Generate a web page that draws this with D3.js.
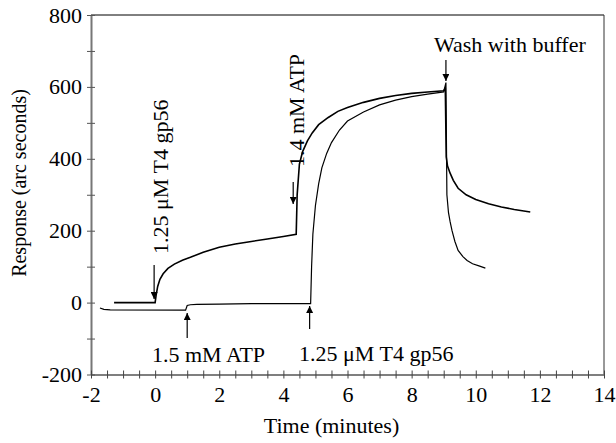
<!DOCTYPE html>
<html>
<head>
<meta charset="utf-8">
<script src="https://cdn.jsdelivr.net/npm/d3@7"></script>
<style>
  body { margin: 0; background: #fff; }
  svg text { font-family: "Liberation Serif", "Times New Roman", serif; fill: #000; }
</style>
</head>
<body>
<svg id="chart" width="616" height="443"></svg>
<script>
// Trace A: gp56 added at t=0, then ATP at ~4.4 min, then wash
var timeA = [-1.28, 0.0, 0.03, 0.08, 0.15, 0.25, 0.4, 0.6, 0.85, 1.1, 1.5, 2.0, 2.5, 3.0, 3.5, 4.0, 4.4,
             4.43, 4.5, 4.6, 4.75, 4.9, 5.1, 5.4, 5.7, 6.0, 6.5, 7.0, 7.5, 8.0, 8.5, 9.0,
             9.05, 9.08, 9.12, 9.2, 9.3, 9.45, 9.7, 10.0, 10.4, 10.8, 11.2, 11.7];
var respA = [0, 0, 20, 45, 65, 80, 95, 107, 118, 126, 140, 154, 163, 170, 177, 184, 190,
             300, 385, 420, 450, 472, 495, 515, 532, 543, 557, 568, 576, 582, 586, 589,
             598, 405, 380, 360, 340, 318, 300, 287, 275, 266, 259, 252];

// Trace B: ATP added at t=1, then gp56 at ~4.85 min, then wash
var timeB = [-1.72, -1.6, -1.4, 0.95, 1.0, 1.1, 1.3, 2.0, 3.0, 4.0, 4.85,
             4.88, 4.92, 5.0, 5.1, 5.2, 5.35, 5.5, 5.75, 6.0, 6.5, 7.0, 7.5, 8.0, 8.5, 9.0,
             9.07, 9.1, 9.15, 9.2, 9.26, 9.35, 9.45, 9.6, 9.73, 9.9, 10.1, 10.3];
var respB = [-15, -19, -20, -21, -8, -6, -5, -4, -3, -3, -3,
             100, 190, 270, 330, 375, 415, 445, 480, 505, 530, 550, 563, 573, 580, 586,
             612, 300, 250, 225, 200, 170, 145, 128, 117, 108, 102, 96];

var xTicks = [-2, 0, 2, 4, 6, 8, 10, 12, 14];
var yTicks = [-200, 0, 200, 400, 600, 800];

var xTitle = "Time (minutes)";
var yTitle = "Response (arc seconds)";

// annotation labels with the time they point at
var notes = [
  { text: "1.25 \u03bcM T4 gp56", t: 0 },
  { text: "1.4 mM ATP", t: 4.4 },
  { text: "1.5 mM ATP", t: 1.0 },
  { text: "1.25 \u03bcM T4 gp56", t: 4.85 },
  { text: "Wash with buffer", t: 9.07 }
];

var svg = d3.select("#chart");

var x = d3.scaleLinear().domain([-2, 14]).range([91, 604]);
var y = d3.scaleLinear().domain([-200, 800]).range([374.5, 15]);

svg.append("defs").append("marker")
  .attr("id", "head")
  .attr("viewBox", "0 0 10 10")
  .attr("refX", 10).attr("refY", 5)
  .attr("markerWidth", 7).attr("markerHeight", 7)
  .attr("markerUnits", "userSpaceOnUse")
  .attr("orient", "auto")
  .append("path").attr("d", "M0,0 L10,5 L0,10 Z").attr("fill", "#000");

// frame top + right
svg.append("line").attr("x1", x(-2)).attr("x2", x(14)).attr("y1", y(800)).attr("y2", y(800))
  .attr("stroke", "#000").attr("stroke-width", 1);
svg.append("line").attr("x1", x(14)).attr("x2", x(14)).attr("y1", y(800)).attr("y2", y(-200))
  .attr("stroke", "#333").attr("stroke-width", 1);

// left axis
var yAxis = svg.append("g").attr("transform", "translate(" + x(-2) + ",0)")
  .call(d3.axisLeft(y).tickValues(d3.range(-200, 801, 100)).tickSize(0).tickPadding(9)
    .tickFormat(function (d) { return yTicks.indexOf(d) >= 0 ? d : ""; }));
yAxis.select(".domain").attr("stroke", "#777").attr("stroke-width", 2);
yAxis.selectAll(".tick line").attr("x1", -4).attr("x2", 4).attr("stroke", "#555");
yAxis.selectAll("text").attr("font-size", 22).attr("font-family", "Liberation Serif");

// bottom axis
var xAxis = svg.append("g").attr("transform", "translate(0," + y(-200) + ")")
  .call(d3.axisBottom(x).tickValues(d3.range(-2, 14.01, 0.5)).tickSize(0).tickPadding(12)
    .tickFormat(function (d) { return xTicks.indexOf(d) >= 0 ? d : ""; }));
xAxis.select(".domain").attr("stroke", "#555").attr("stroke-width", 1.5);
xAxis.selectAll(".tick line").attr("y1", -4).attr("y2", 4).attr("stroke", "#444");
xAxis.selectAll("text").attr("font-size", 22).attr("font-family", "Liberation Serif");

// titles
svg.append("text").attr("x", (x(-2) + x(14)) / 2 - 16).attr("y", 433)
  .attr("text-anchor", "middle").attr("font-size", 22).text(xTitle);
svg.append("text").attr("transform", "translate(26," + 183 + ") rotate(-90)")
  .attr("text-anchor", "middle").attr("font-size", 20).text(yTitle);

// traces
var line = d3.line().x(function (d) { return x(d[0]); }).y(function (d) { return y(d[1]); });
svg.append("path").datum(d3.zip(timeA, respA)).attr("d", line)
  .attr("fill", "none").attr("stroke", "#000").attr("stroke-width", 1.6);
svg.append("path").datum(d3.zip(timeB, respB)).attr("d", line)
  .attr("fill", "none").attr("stroke", "#000").attr("stroke-width", 1.2);

function arrow(x0, y0, y1) {
  svg.append("line").attr("x1", x0).attr("x2", x0).attr("y1", y0).attr("y2", y1)
    .attr("stroke", "#000").attr("stroke-width", 1.2).attr("marker-end", "url(#head)");
}

// gp56 at t=0 (rotated)
arrow(x(notes[0].t) - 1, 265, 299);
svg.append("text").attr("transform", "translate(" + (x(notes[0].t) + 13) + ",254) rotate(-90)")
  .attr("font-size", 22).text(notes[0].text);

// ATP at 4.4 (rotated)
arrow(x(notes[1].t) - 3, 182, 204);
svg.append("text").attr("transform", "translate(" + (x(notes[1].t) + 8) + ",167) rotate(-90)")
  .attr("font-size", 22).text(notes[1].text);

// ATP at t=1 (below)
arrow(x(notes[2].t), 338, 313);
svg.append("text").attr("x", 152).attr("y", 362).attr("font-size", 22).text(notes[2].text);

// gp56 at 4.85 (below)
arrow(x(notes[3].t) - 1, 329, 306);
svg.append("text").attr("x", 299).attr("y", 361).attr("font-size", 22).text(notes[3].text);

// wash
arrow(x(notes[4].t), 60, 81);
svg.append("text").attr("x", 434).attr("y", 52).attr("font-size", 22).text(notes[4].text);
</script>
</body>
</html>
